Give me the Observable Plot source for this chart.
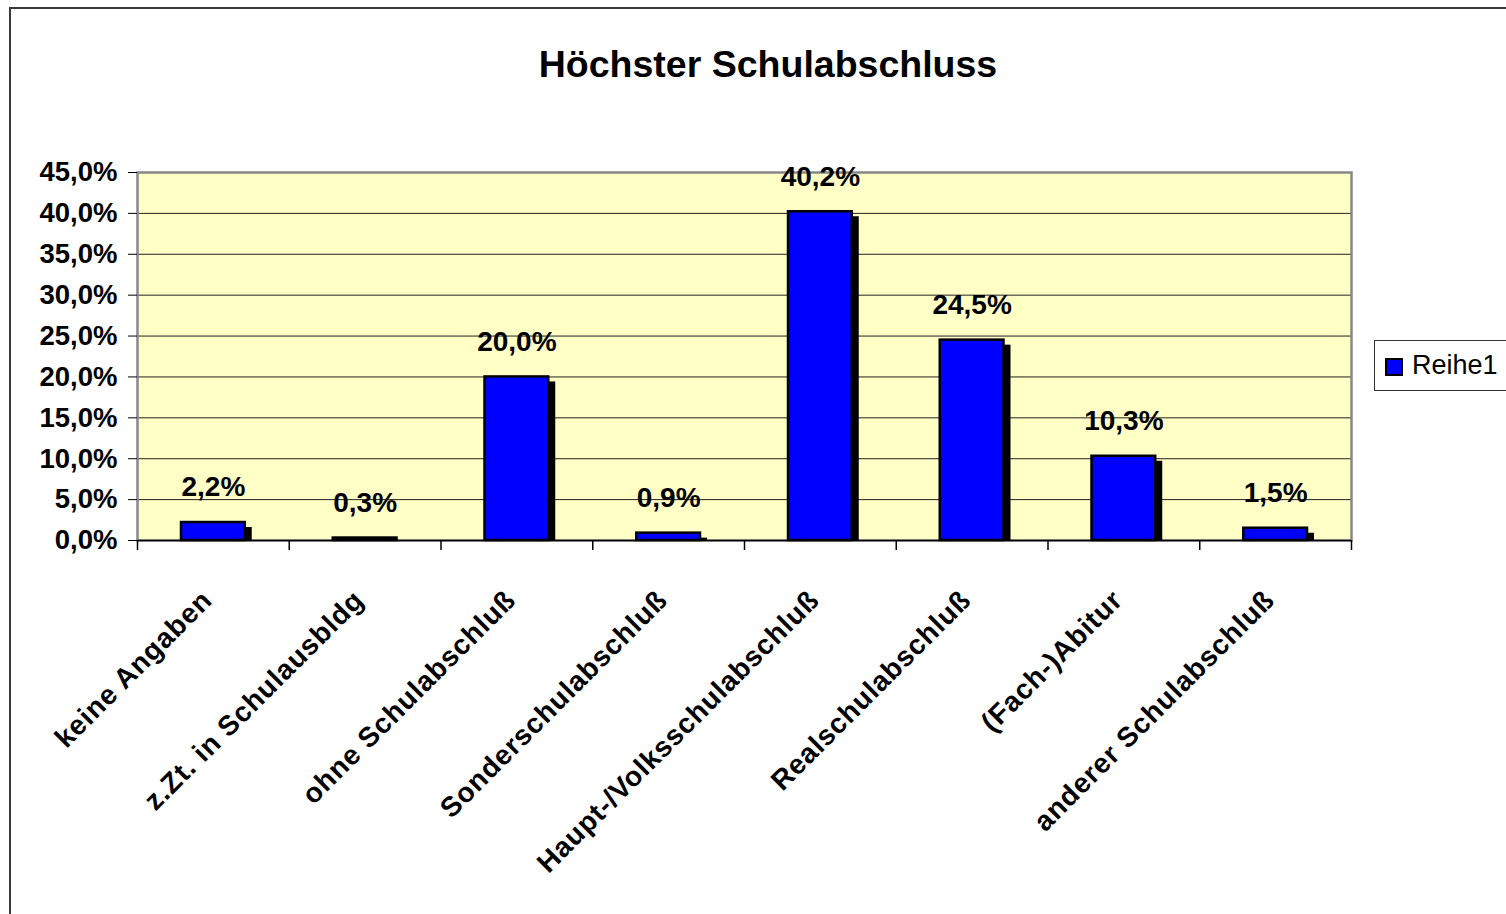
<!DOCTYPE html>
<html>
<head>
<meta charset="utf-8">
<script src="https://cdn.jsdelivr.net/npm/d3@7"></script>
<script src="https://cdn.jsdelivr.net/npm/@observablehq/plot@0.6"></script>
<style>
  html, body { margin: 0; padding: 0; background: #fff; overflow: hidden; width: 1506px; height: 914px; }
  #wrap { position: relative; width: 1506px; height: 914px; font-family: "Liberation Sans", Arial, sans-serif; }
  #border { position: absolute; left: 9px; top: 7px; width: 1600px; height: 1000px; border: 2.5px solid #3a3a3a; box-sizing: border-box; }
  #chart { position: absolute; left: 0; top: 0; }
  #title { position: absolute; left: 0; width: 1536px; top: 40px; text-align: center; font-size: 37.5px; font-weight: bold; color: #000; line-height: 48px; }
  #legend { position: absolute; left: 1374px; top: 340px; width: 170px; height: 51px; border: 1.5px solid #333; box-sizing: border-box; background: #fff; }
  #legend .sw { position: absolute; left: 10px; top: 17px; width: 18px; height: 18px; background: #0000ff; border: 2px solid #000; box-sizing: border-box; }
  #legend .lb { position: absolute; left: 37px; top: 7px; font-size: 27px; line-height: 34px; color: #000; }
</style>
</head>
<body>
<div id="wrap">
  <div id="border"></div>
  <div id="chart"></div>
  <div id="title">Höchster Schulabschluss</div>
  <div id="legend"><div class="sw"></div><div class="lb">Reihe1</div></div>
</div>
<script>
const categories = [
  "keine Angaben",
  "z.Zt. in Schulausbldg",
  "ohne Schulabschluß",
  "Sonderschulabschluß",
  "Haupt-/Volksschulabschluß",
  "Realschulabschluß",
  "(Fach-)Abitur",
  "anderer Schulabschluß"
];
const values = [2.2, 0.3, 20.0, 0.9, 40.2, 24.5, 10.3, 1.5];
const yTicks = [0, 5, 10, 15, 20, 25, 30, 35, 40, 45];
const seriesName = "Reihe1";

const data = categories.map((c, i) => ({cat: c, i, x1: i, x2: i + 1, xm: i + 0.5, v: values[i]}));
const fmt = d => d.toFixed(1).replace(".", ",") + "%";
const font = "Liberation Sans, Arial, sans-serif";

const chart = Plot.plot({
  width: 1506,
  height: 914,
  marginLeft: 137,
  marginRight: 155,
  marginTop: 172,
  marginBottom: 374,
  style: {background: "transparent", fontFamily: font, color: "#000", overflow: "visible"},
  x: {domain: [0, categories.length], axis: null},
  y: {domain: [0, 45], axis: null},
  marks: [
    Plot.frame({fill: "#ffffc6", stroke: null}),
    Plot.gridY(yTicks.filter(t => t > 0 && t < 45), {stroke: "#222", strokeOpacity: 1, strokeWidth: 1}),
    Plot.frame({stroke: "#888", strokeWidth: 2.5}),
    Plot.axisY({ticks: yTicks, tickSize: 9, tickPadding: 11, tickFormat: fmt, fontSize: 27.5, fontWeight: "bold", stroke: "#000", label: null}),
    Plot.axisX({ticks: d3.range(0, categories.length + 1), tickSize: 10, tickFormat: () => "", label: null, stroke: "#000", strokeWidth: 1.5}),
    Plot.rectY(data, {x1: "x1", x2: "x2", y: "v", insetLeft: 44, insetRight: 44, fill: "#000", dx: 7, dy: 5, clip: true}),
    Plot.rectY(data, {x1: "x1", x2: "x2", y: "v", insetLeft: 44, insetRight: 44, fill: "#0000ff", stroke: "#000", strokeWidth: 2.5}),
    Plot.ruleY([0], {stroke: "#000", strokeWidth: 1.5}),
    Plot.text(data, {x: "xm", y: "v", text: d => fmt(d.v), dy: -35, fontSize: 28, fontWeight: "bold", fill: "#000", lineAnchor: "middle"}),
    Plot.text(data, {x: "xm", y: () => 0, text: "cat", rotate: -45, textAnchor: "end", lineAnchor: "middle", dx: -6, dy: 55, fontSize: 28, fontWeight: "bold", fill: "#000"})
  ]
});

d3.select(chart).selectAll("text").filter(function() {
  const t = this.getAttribute("transform") || "";
  return t.includes("rotate(-45)");
}).style("letter-spacing", "0.8px");

document.getElementById("chart").appendChild(chart);
</script>
</body>
</html>
